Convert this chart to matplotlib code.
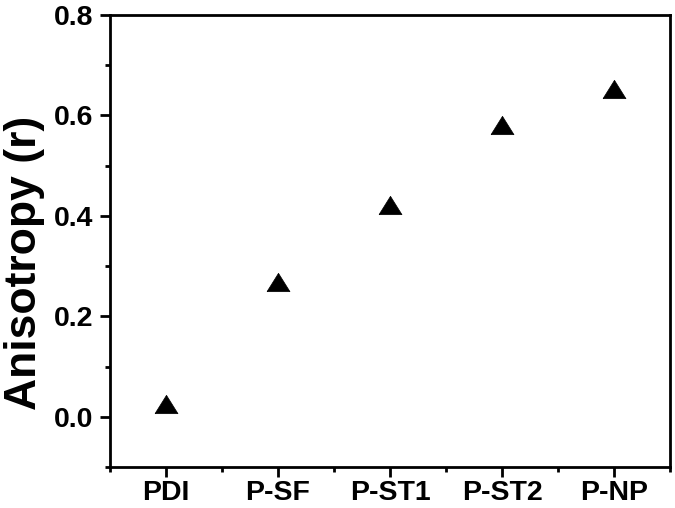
import numpy as np
import matplotlib
matplotlib.use('Agg')
import matplotlib.pyplot as plt
from matplotlib.ticker import MultipleLocator, FixedLocator

plt.rcParams['font.family'] = ['Liberation Sans', 'DejaVu Sans']
plt.rcParams['font.weight'] = 'bold'

# data
samples = ['PDI', 'P-SF', 'P-ST1', 'P-ST2', 'P-NP']
anisotropy = [0.025, 0.269, 0.421, 0.580, 0.653]

x = np.arange(1, len(samples) + 1)

fig = plt.figure(figsize=(6.75, 5.08), dpi=100)
ax = fig.add_axes([0.163, 0.0807, 0.8296, 0.8898])

# slightly flattened filled triangle
tri = [(-1, -0.8), (1, -0.8), (0, 0.8), (-1, -0.8)]
ax.plot(x, anisotropy, linestyle='none', marker=tri, ms=16.5,
        color='black', mew=0.5)

ax.set_xlim(0.5, 5.5)
ax.set_ylim(-0.1, 0.8)
ax.xaxis.set_major_locator(FixedLocator(x))
ax.xaxis.set_minor_locator(FixedLocator(np.arange(0.5, 5.6, 1.0)))
ax.set_xticklabels(samples)
ax.yaxis.set_major_locator(MultipleLocator(0.2))
ax.yaxis.set_minor_locator(MultipleLocator(0.1))
ax.yaxis.set_major_formatter(matplotlib.ticker.FormatStrFormatter('%.1f'))

for s in ax.spines.values():
    s.set_linewidth(2.0)

ax.tick_params(which='major', direction='out', length=7, width=2,
               labelsize=20.5, top=False, right=False)
ax.tick_params(which='minor', direction='out', length=3.5, width=2,
               top=False, right=False)
ax.tick_params(axis='y', which='major', pad=5)
ax.tick_params(axis='x', which='major', pad=2)
for lab in ax.get_xticklabels() + ax.get_yticklabels():
    lab.set_fontweight('bold')

ax.set_ylabel('Anisotropy (r)', fontsize=32, fontweight='bold')
ax.yaxis.set_label_coords(-0.117, 0.451)

fig.savefig('out.png', dpi=100)
